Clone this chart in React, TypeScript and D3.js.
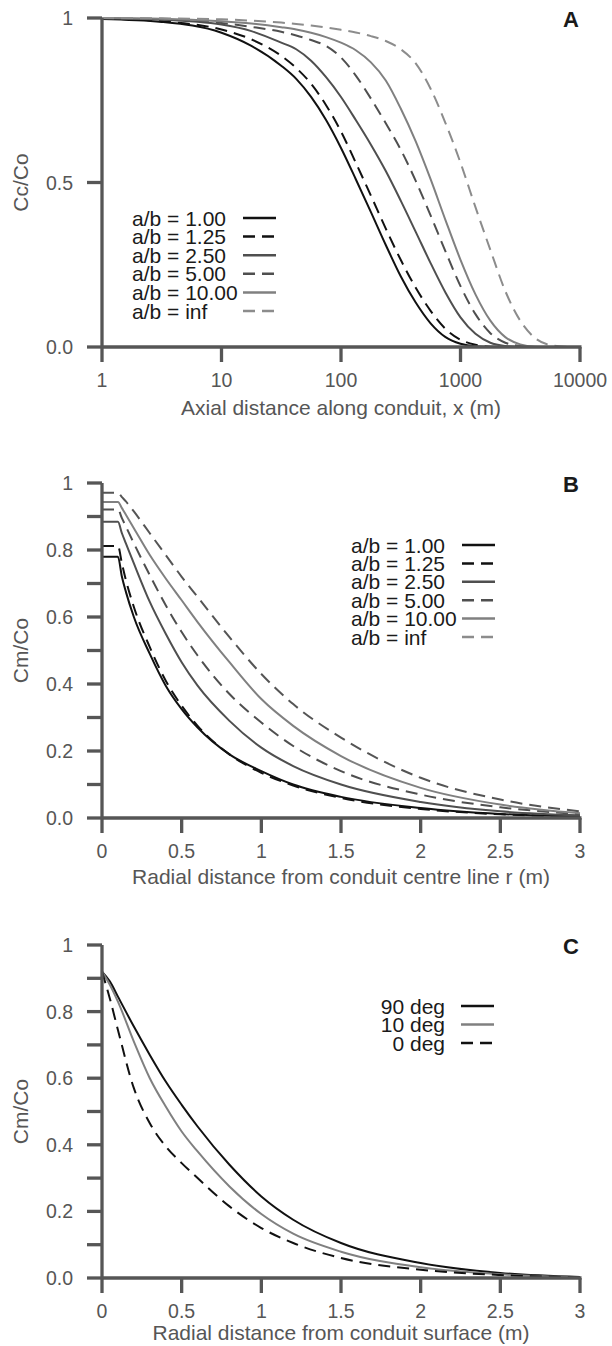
import React from 'react';
import * as d3 from 'd3';

// ---------- data ----------
const abLabels = ['a/b = 1.00', 'a/b = 1.25', 'a/b = 2.50', 'a/b = 5.00', 'a/b = 10.00', 'a/b = inf'];

// Panel A: axial distance (m), log scale
const axialX = [1, 3.16, 10, 17.8, 31.6, 42.2, 56.2, 75, 100, 133, 178, 237, 316, 422, 562, 750, 1000, 1334, 1778, 2371, 3162, 4217, 5623, 7499, 10000];
const axialAB100 = [0.997, 0.988, 0.955, 0.915, 0.855, 0.815, 0.76, 0.69, 0.605, 0.51, 0.41, 0.31, 0.215, 0.135, 0.072, 0.03, 0.01, 0.002, 0, 0, 0, 0, 0, 0, 0];
const axialAB125 = [0.998, 0.99, 0.965, 0.935, 0.885, 0.848, 0.8, 0.735, 0.655, 0.56, 0.46, 0.36, 0.265, 0.18, 0.11, 0.055, 0.022, 0.007, 0.001, 0, 0, 0, 0, 0, 0];
const axialAB250 = [0.999, 0.995, 0.98, 0.96, 0.925, 0.905, 0.87, 0.82, 0.76, 0.69, 0.615, 0.535, 0.445, 0.35, 0.255, 0.165, 0.09, 0.04, 0.013, 0.003, 0, 0, 0, 0, 0];
const axialAB500 = [0.999, 0.996, 0.985, 0.973, 0.958, 0.947, 0.933, 0.915, 0.88, 0.825, 0.755, 0.68, 0.6, 0.505, 0.4, 0.29, 0.185, 0.1, 0.042, 0.013, 0.003, 0, 0, 0, 0];
const axialAB1000 = [1.0, 0.998, 0.99, 0.983, 0.972, 0.965, 0.955, 0.942, 0.925, 0.902, 0.865, 0.81, 0.725, 0.625, 0.51, 0.385, 0.265, 0.16, 0.08, 0.03, 0.008, 0.001, 0, 0, 0];
const axialABinf = [1.0, 0.999, 0.996, 0.992, 0.986, 0.982, 0.977, 0.971, 0.964, 0.956, 0.945, 0.93, 0.905, 0.862, 0.785, 0.68, 0.56, 0.425, 0.295, 0.17, 0.08, 0.027, 0.006, 0.001, 0];
const axialTicks = [1, 10, 100, 1000, 10000];
const axialTickLabels = ['1', '10', '100', '1000', '10000'];

// Panel B: radial distance from centre line (m)
const radialR = [0, 0.1, 0.125, 0.15, 0.2, 0.3, 0.4, 0.5, 0.6, 0.8, 1.0, 1.2, 1.5, 2.0, 2.5, 3.0];
const radialAB100 = [0.78, 0.78, 0.72, 0.675, 0.6, 0.49, 0.395, 0.325, 0.27, 0.19, 0.14, 0.1, 0.063, 0.03, 0.012, 0.004];
const radialAB125 = [0.812, 0.812, 0.76, 0.71, 0.63, 0.51, 0.41, 0.335, 0.275, 0.19, 0.135, 0.097, 0.06, 0.027, 0.011, 0.004];
const radialAB250 = [0.884, 0.884, 0.85, 0.82, 0.76, 0.645, 0.55, 0.465, 0.395, 0.29, 0.21, 0.155, 0.1, 0.048, 0.02, 0.008];
const radialAB500 = [0.921, 0.921, 0.895, 0.87, 0.82, 0.725, 0.635, 0.555, 0.485, 0.37, 0.285, 0.215, 0.14, 0.07, 0.032, 0.012];
const radialAB1000 = [0.943, 0.943, 0.925, 0.905, 0.865, 0.785, 0.715, 0.65, 0.585, 0.465, 0.355, 0.275, 0.185, 0.09, 0.04, 0.014];
const radialABinf = [0.971, 0.971, 0.958, 0.945, 0.915, 0.85, 0.785, 0.72, 0.66, 0.54, 0.43, 0.34, 0.24, 0.12, 0.055, 0.02];

// Panel C: radial distance from conduit surface (m)
const angleLabels = ['90 deg', '10 deg', '0 deg'];
const surfaceR = [0, 0.05, 0.1, 0.2, 0.3, 0.4, 0.5, 0.6, 0.8, 1.0, 1.2, 1.5, 2.0, 2.5, 3.0];
const surfaceDeg90 = [0.92, 0.89, 0.845, 0.755, 0.67, 0.59, 0.52, 0.455, 0.34, 0.245, 0.175, 0.105, 0.045, 0.015, 0.003];
const surfaceDeg10 = [0.92, 0.88, 0.83, 0.71, 0.6, 0.515, 0.44, 0.38, 0.275, 0.192, 0.133, 0.079, 0.032, 0.011, 0.002];
const surfaceDeg0 = [0.92, 0.838, 0.745, 0.57, 0.465, 0.395, 0.345, 0.3, 0.215, 0.15, 0.105, 0.06, 0.025, 0.009, 0.002];

const radialTicks = [0, 0.5, 1, 1.5, 2, 2.5, 3];
const radialTickLabels = ['0', '0.5', '1', '1.5', '2', '2.5', '3'];
const yTicksA = [0, 0.5, 1];
const yTickLabelsA = ['0.0', '0.5', '1'];
const yTicksBC = [0, 0.1, 0.2, 0.3, 0.4, 0.5, 0.6, 0.7, 0.8, 0.9, 1];
const yTickLabelsBC = ['0.0', '', '0.2', '', '0.4', '', '0.6', '', '0.8', '', '1'];

// ---------- styling ----------
const FONT = '"Liberation Sans", Arial, Helvetica, sans-serif';
const AXIS = '#565656';
const X0 = 102;
const X1 = 580;
const DASH = '12,7';

type Series = { label: string; xs: number[]; ys: number[]; color: string; legendColor: string; dashed: boolean };

type PanelProps = {
  yTop: number;
  yBottom: number;
  titleOffset: number;
  xScale: (v: number) => number;
  xTicks: number[];
  xTickLabels: string[];
  yTicks: number[];
  yTickLabels: string[];
  xTitle: string;
  yTitle: string;
  letter: string;
  series: Series[];
  legend: { x: number; y: number; anchor: 'start' | 'end'; lineX: number; step: number };
};

function Panel(p: PanelProps) {
  const y = d3.scaleLinear().domain([0, 1]).range([p.yBottom, p.yTop]);
  const tickLen = 15;
  return (
    <g>
      {p.series.map((s, i) => {
        const gen = d3
          .line<number>()
          .x((_, j) => p.xScale(s.xs[j]))
          .y((d) => y(d))
          .curve(d3.curveMonotoneX);
        return (
          <path
            key={i}
            d={gen(s.ys) || ''}
            fill="none"
            stroke={s.color}
            strokeWidth={2}
            strokeDasharray={s.dashed ? DASH : undefined}
          />
        );
      })}
      <line x1={X0} x2={X0} y1={p.yTop} y2={p.yBottom} stroke={AXIS} strokeWidth={3.3} />
      {p.yTicks.map((t, i) => (
        <g key={'yt' + i}>
          <line x1={X0 - tickLen} x2={X0} y1={y(t)} y2={y(t)} stroke={AXIS} strokeWidth={3.3} />
          {p.yTickLabels[i] ? (
            <text x={X0 - 29} y={y(t)} dy="0.36em" textAnchor="end" fontFamily={FONT} fontSize={19.5} fill={AXIS}>
              {p.yTickLabels[i]}
            </text>
          ) : null}
        </g>
      ))}
      <line x1={X0} x2={X1 + 1.5} y1={p.yBottom} y2={p.yBottom} stroke={AXIS} strokeWidth={3.3} />
      {p.xTicks.map((t, i) => (
        <g key={'xt' + i}>
          <line x1={p.xScale(t)} x2={p.xScale(t)} y1={p.yBottom} y2={p.yBottom + tickLen} stroke={AXIS} strokeWidth={3.3} />
          <text x={p.xScale(t)} y={p.yBottom + 40} textAnchor="middle" fontFamily={FONT} fontSize={19.5} fill={AXIS}>
            {p.xTickLabels[i]}
          </text>
        </g>
      ))}
      <text x={(X0 + X1) / 2} y={p.yBottom + p.titleOffset} textAnchor="middle" fontFamily={FONT} fontSize={21} fill={AXIS}>
        {p.xTitle}
      </text>
      <text
        transform={`translate(28,${(p.yTop + p.yBottom) / 2}) rotate(-90)`}
        textAnchor="middle"
        fontFamily={FONT}
        fontSize={21}
        fill={AXIS}
      >
        {p.yTitle}
      </text>
      <text x={563} y={p.yTop + 9} fontFamily={FONT} fontSize={22} fontWeight="bold" fill="#1a1a1a">
        {p.letter}
      </text>
      {p.series.map((s, i) => {
        const ly = p.legend.y + i * p.legend.step;
        return (
          <g key={'lg' + i}>
            <text x={p.legend.x} y={ly} dy="0.36em" textAnchor={p.legend.anchor} fontFamily={FONT} fontSize={21} fill="#1a1a1a">
              {s.label}
            </text>
            <line
              x1={p.legend.lineX}
              x2={p.legend.lineX + 33}
              y1={ly}
              y2={ly}
              stroke={s.legendColor}
              strokeWidth={2.5}
              strokeDasharray={s.dashed ? DASH : undefined}
            />
          </g>
        );
      })}
    </g>
  );
}

export default function App() {
  const xLog = d3.scaleLog().domain([1, 10000]).range([X0, X1]);
  const xLin = d3.scaleLinear().domain([0, 3]).range([X0, X1]);

  const colA = ['#111111', '#111111', '#4f4f4f', '#4f4f4f', '#808080', '#8c8c8c'];
  const colB = ['#111111', '#111111', '#4f4f4f', '#4f4f4f', '#808080', '#555555'];
  const dashed = [false, true, false, true, false, true];

  const axialSets = [axialAB100, axialAB125, axialAB250, axialAB500, axialAB1000, axialABinf];
  const radialSets = [radialAB100, radialAB125, radialAB250, radialAB500, radialAB1000, radialABinf];

  const seriesA: Series[] = axialSets.map((ys, i) => ({
    label: abLabels[i], xs: axialX, ys, color: colA[i], legendColor: colA[i], dashed: dashed[i],
  }));
  const seriesB: Series[] = radialSets.map((ys, i) => ({
    label: abLabels[i], xs: radialR, ys, color: colB[i], legendColor: colA[i], dashed: dashed[i],
  }));
  const seriesC: Series[] = [
    { label: angleLabels[0], xs: surfaceR, ys: surfaceDeg90, color: '#111111', legendColor: '#111111', dashed: false },
    { label: angleLabels[1], xs: surfaceR, ys: surfaceDeg10, color: '#808080', legendColor: '#808080', dashed: false },
    { label: angleLabels[2], xs: surfaceR, ys: surfaceDeg0, color: '#111111', legendColor: '#111111', dashed: true },
  ];

  return (
    <svg
      width={612}
      height={1346}
      viewBox="0 0 612 1346"
      style={{ position: 'absolute', left: 0, top: 0, background: '#ffffff' }}
    >
      <rect x={0} y={0} width={612} height={1346} fill="#ffffff" />
      <Panel
        yTop={18}
        yBottom={347}
        titleOffset={68}
        xScale={xLog}
        xTicks={axialTicks}
        xTickLabels={axialTickLabels}
        yTicks={yTicksA}
        yTickLabels={yTickLabelsA}
        xTitle="Axial distance along conduit, x (m)"
        yTitle="Cc/Co"
        letter="A"
        series={seriesA}
        legend={{ x: 132, y: 218, anchor: 'start', lineX: 243, step: 18.6 }}
      />
      <Panel
        yTop={483}
        yBottom={818}
        titleOffset={66}
        xScale={xLin}
        xTicks={radialTicks}
        xTickLabels={radialTickLabels}
        yTicks={yTicksBC}
        yTickLabels={yTickLabelsBC}
        xTitle="Radial distance from conduit centre line r (m)"
        yTitle="Cm/Co"
        letter="B"
        series={seriesB}
        legend={{ x: 351, y: 545, anchor: 'start', lineX: 462, step: 18.4 }}
      />
      <Panel
        yTop={945}
        yBottom={1278}
        titleOffset={62}
        xScale={xLin}
        xTicks={radialTicks}
        xTickLabels={radialTickLabels}
        yTicks={yTicksBC}
        yTickLabels={yTickLabelsBC}
        xTitle="Radial distance from conduit surface (m)"
        yTitle="Cm/Co"
        letter="C"
        series={seriesC}
        legend={{ x: 445, y: 1006, anchor: 'end', lineX: 461, step: 18.5 }}
      />
    </svg>
  );
}
